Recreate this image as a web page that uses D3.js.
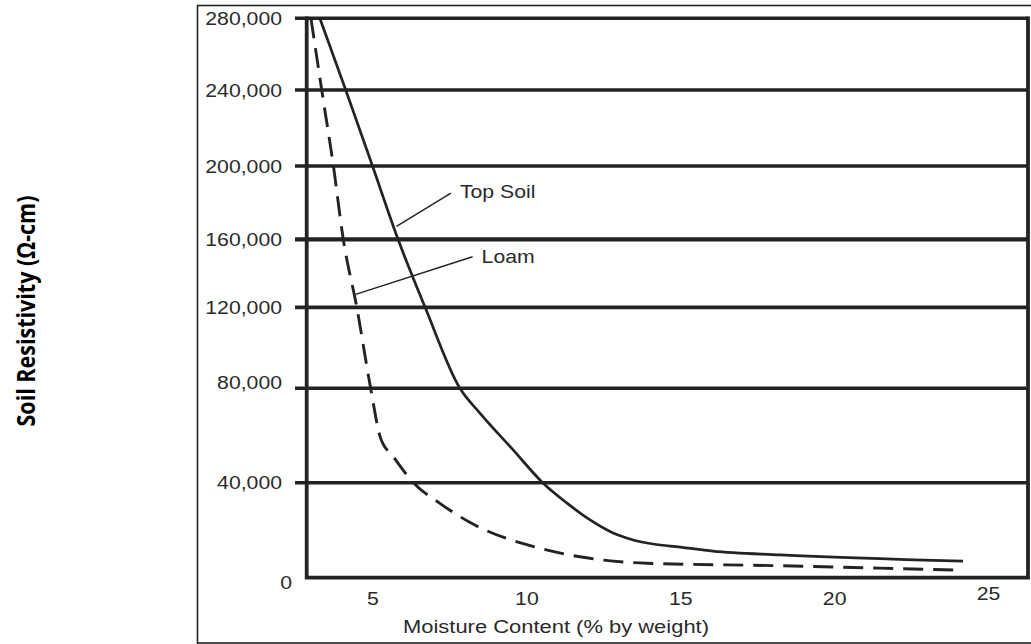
<!DOCTYPE html>
<html>
<head>
<meta charset="utf-8">
<script src="https://cdn.jsdelivr.net/npm/d3@7"></script>
<style>
  html, body { margin: 0; padding: 0; background: #fff; }
  svg { display: block; }
</style>
</head>
<body>
<svg id="chart" width="1031" height="644"></svg>
<script>
// Soil resistivity vs. moisture content for two soil types
const xTicks = [5, 10, 15, 20, 25];
const yTicks = [0, 40000, 80000, 120000, 160000, 200000, 240000, 280000];

const topSoilMoisture = [3.29, 4.13, 5.0, 5.83, 6.71, 7.84, 8.49, 9.57, 10.53, 11.31, 12.07, 12.82, 13.47, 14.12, 14.99, 16.06, 18.24, 24.19];
const topSoilResistivity = [280000, 240000, 200000, 160000, 120000, 80000, 69500, 53900, 40000, 31500, 24300, 18800, 15900, 14200, 12900, 11200, 9600, 7000];

const loamMoisture = [3.0, 3.35, 3.73, 4.05, 4.49, 4.94, 5.26, 5.68, 6.33, 7.19, 8.22, 10.44, 11.74, 13.91, 18.01, 23.93];
const loamResistivity = [280000, 240000, 200000, 160000, 120000, 80000, 59000, 51000, 40000, 31300, 22900, 12400, 8800, 6100, 5100, 3200];

const seriesNames = ["Top Soil", "Loam"];
// point on each curve where its callout line attaches
const calloutMoisture = [5.78, 4.45];
const calloutResistivity = [167000, 127600];

const xTitle = "Moisture Content (% by weight)";
const yTitle = "Soil Resistivity (Ω-cm)";

const ink = "#232323";
const labelInk = "#2a2a2a";
const sans = "'Liberation Sans', Arial, Helvetica, sans-serif";
const stretch = 1.18; // horizontal widening of the lettering

const svg = d3.select("#chart");

// plot frame
const L = 306.7, R = 1028, T = 18.3, B = 577.7;

const x = d3.scaleLinear().domain([5, 25]).range([372.5, 988]);
// the value axis is drawn with uneven spacing between gridlines
const y = d3.scaleLinear()
  .domain(yTicks)
  .range([B, 482.7, 388.3, 307.3, 239.3, 166, 90, T]);

// outer border
svg.append("rect")
  .attr("x", 197.5).attr("y", 5.5)
  .attr("width", 900).attr("height", 637.5)
  .attr("fill", "none").attr("stroke", ink).attr("stroke-width", 1.6);

// horizontal gridlines (run a little past the left axis as ticks)
svg.append("g").selectAll("line")
  .data(yTicks.filter(d => d > 0))
  .join("line")
  .attr("x1", 295).attr("x2", R)
  .attr("y1", d => y(d)).attr("y2", d => y(d))
  .attr("stroke", ink)
  .attr("stroke-width", d => d === 160000 ? 4.2 : (d === 120000 ? 3.8 : 3.4));

// frame lines: left, bottom, right
svg.append("path")
  .attr("d", `M${L},${T - 1.7}V${B}H${R}V${T - 1.7}`)
  .attr("fill", "none").attr("stroke", ink).attr("stroke-width", 3.8)
  .attr("stroke-linejoin", "miter");

// y axis labels
const yAxis = d3.axisLeft(y)
  .tickValues(yTicks)
  .tickFormat(d3.format(","))
  .tickSize(0)
  .tickPadding(0);
const gy = svg.append("g").attr("transform", `translate(${L},0)`).call(yAxis);
gy.select(".domain").remove();
gy.selectAll(".tick text")
  .style("font-family", sans)
  .style("font-size", "18px")
  .attr("fill", labelInk)
  .attr("x", d => (d === 0 ? -14.7 : -24.7) / stretch)
  .attr("dy", d => d === 0 ? "0.62em" : (d === 80000 ? "0.0em" : "0.34em"))
  .attr("transform", `scale(${stretch},1)`);

// x axis labels
const xAxis = d3.axisBottom(x)
  .tickValues(xTicks)
  .tickFormat(d3.format("d"))
  .tickSize(0)
  .tickPadding(0);
const gx = svg.append("g").attr("transform", `translate(0,${B})`).call(xAxis);
gx.select(".domain").remove();
gx.selectAll(".tick text")
  .style("font-family", sans)
  .style("font-size", "18px")
  .attr("fill", labelInk)
  .attr("y", d => d === 25 ? 10 : 15)
  .attr("dy", "0.71em")
  .attr("transform", `scale(${stretch},1)`)
  .attr("x", 0);

// curves
const line = d3.line()
  .x(d => x(d[0]))
  .y(d => y(d[1]))
  .curve(d3.curveMonotoneX);

const topSoil = d3.zip(topSoilMoisture, topSoilResistivity);
const loam = d3.zip(loamMoisture, loamResistivity);

svg.append("path")
  .datum(topSoil)
  .attr("d", line)
  .attr("fill", "none").attr("stroke", ink).attr("stroke-width", 2.7);

svg.append("path")
  .datum(loam)
  .attr("d", line)
  .attr("fill", "none").attr("stroke", ink).attr("stroke-width", 2.9)
  .attr("stroke-dasharray", "20,10");

// callouts
const calloutLead = [[54.4, -33.3], [117, -37.6]];
const calloutText = [[63.4, -28], [126, -31]];
seriesNames.forEach((name, i) => {
  const ax = x(calloutMoisture[i]), ay = y(calloutResistivity[i]);
  svg.append("line")
    .attr("x1", ax).attr("y1", ay)
    .attr("x2", ax + calloutLead[i][0]).attr("y2", ay + calloutLead[i][1])
    .attr("stroke", ink).attr("stroke-width", 1.5);
  svg.append("text")
    .attr("transform", `translate(${ax + calloutText[i][0]},${ay + calloutText[i][1]}) scale(${stretch},1)`)
    .style("font-family", sans)
    .style("font-size", "18px")
    .attr("fill", labelInk)
    .text(name);
});

// axis titles
svg.append("text")
  .attr("transform", `translate(556,633) scale(${stretch},1)`)
  .attr("text-anchor", "middle")
  .style("font-family", sans)
  .style("font-size", "18.6px")
  .attr("fill", labelInk)
  .text(xTitle);

svg.append("text")
  .attr("transform", `translate(35,311) scale(1.15,1) rotate(-90)`)
  .attr("text-anchor", "middle")
  .style("font-family", "'Open Sans', 'Noto Sans', sans-serif")
  .style("font-weight", "700")
  .style("font-size", "21.5px")
  .attr("fill", "#000")
  .text(yTitle);
</script>
</body>
</html>
